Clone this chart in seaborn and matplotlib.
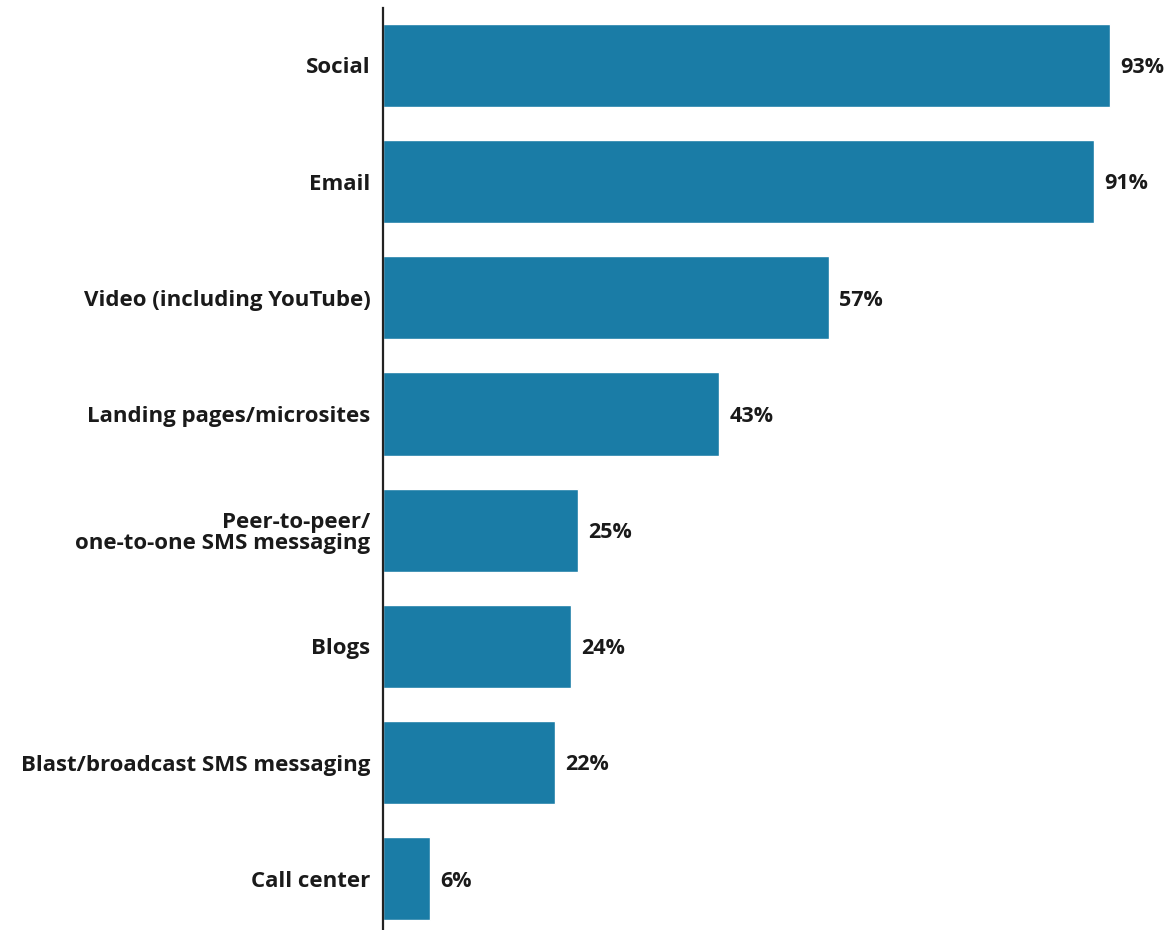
import matplotlib
matplotlib.use('Agg')
import matplotlib.pyplot as plt
import pandas as pd
import seaborn as sns

categories = ['Social', 'Email', 'Video (including YouTube)',
              'Landing pages/microsites',
              'Peer-to-peer/\none-to-one SMS messaging', 'Blogs',
              'Blast/broadcast SMS messaging', 'Call center']
values = [93, 91, 57, 43, 25, 24, 22, 6]

bar_color = '#1a7ca6'

sns.set_style('white')
plt.rcParams['font.family'] = ['Open Sans', 'DejaVu Sans']

df = pd.DataFrame({'channel': categories, 'pct': values})

fig = plt.figure(figsize=(11.75, 9.3), dpi=100)
ax = fig.add_axes([0.326, 0.0, 0.674, 0.991])

sns.barplot(data=df, x='pct', y='channel', color=bar_color,
            saturation=1, width=0.715, ax=ax)

ax.set_xlim(0, 101.3)
ax.set_ylim(7.44, -0.49)
ax.set_xlabel('')
ax.set_ylabel('')
ax.set_xticks([])
ax.tick_params(axis='y', length=0, pad=9)
for lbl in ax.get_yticklabels():
    lbl.set_fontsize(16)
    lbl.set_fontweight('bold')
    lbl.set_color('#1a1a1a')
    lbl.set_horizontalalignment('right')
    lbl.set_multialignment('right')
    lbl.set_linespacing(1.0)

for side in ['top', 'right', 'bottom']:
    ax.spines[side].set_visible(False)
ax.spines['left'].set_color('#222222')
ax.spines['left'].set_linewidth(1.6)

# value labels
for i, v in enumerate(values):
    ax.text(v + 1.3, i + 0.02, f'{v}%', va='center', ha='left',
            fontsize=15.5, fontweight='bold', color='#1a1a1a')

fig.savefig('out.png', dpi=100, facecolor='white')
